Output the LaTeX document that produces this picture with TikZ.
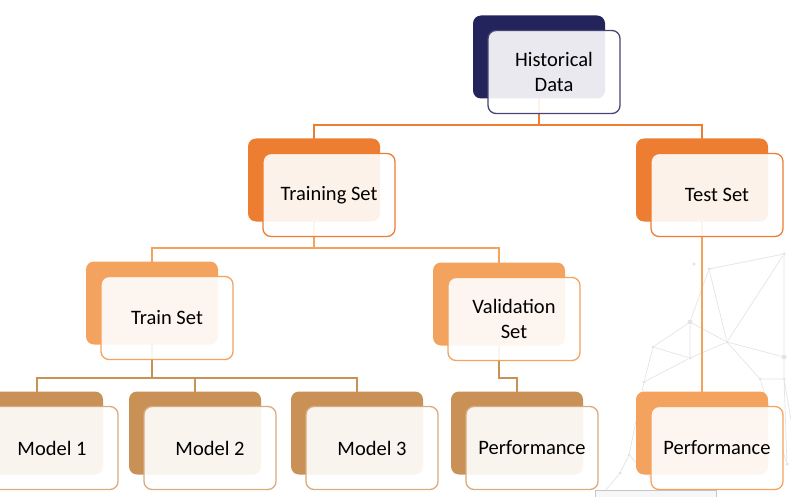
\documentclass[tikz,border=0pt]{standalone}
\usepackage{fontspec}
\setmainfont{Carlito}
\usetikzlibrary{backgrounds}
\usetikzlibrary{calc}

\definecolor{navyback}{RGB}{36,36,92}
\definecolor{orangeback}{RGB}{237,125,49}
\definecolor{lightback}{RGB}{244,163,94}
\definecolor{tanback}{RGB}{201,145,86}
\definecolor{netgray}{RGB}{228,228,228}

\begin{document}
\begin{tikzpicture}[x=1pt,y=-1pt,line join=round,
        font=\fontsize{20.5}{24.5}\selectfont,
        back/.style={rectangle,rounded corners=8pt,minimum width=132pt,minimum height=83pt,inner sep=0pt},
        front/.style={back,fill=white,fill opacity=.9,text opacity=1,line width=1.3pt,align=center},
        back1/.style={back,fill=navyback},
        front1/.style={front,draw=navyback!85},
        back2/.style={back,fill=orangeback},
        front2/.style={front,draw=orangeback},
        back3/.style={back,fill=lightback},
        front3/.style={front,draw=lightback},
        back4/.style={back,fill=tanback},
        front4/.style={front,draw=tanback!75},
        conn/.style={line width=1.1pt},
        net/.style={netgray,line width=.7pt},
        dot/.style={circle,fill=netgray,inner sep=0pt,minimum size=3.5pt}]
        \useasboundingbox (0,0) rectangle (791,497);

        % faint network in the background
        \begin{scope}[on background layer]
        \node[dot] (n1) at (694,264) {};
        \node[dot] (n2) at (709,269) {};
        \node[dot] (n3) at (784,254) {};
        \node[dot,minimum size=5pt] (n4) at (690,322) {};
        \node[dot] (n5) at (727,342) {};
        \node[dot] (n6) at (653,347) {};
        \node[dot] (n7) at (690,358) {};
        \node[dot,minimum size=5pt] (n8) at (784,357) {};
        \node[dot] (n9) at (644,382) {};
        \node[dot] (n10) at (760,379) {};
        \node[dot] (n11) at (784,379) {};
        \node[dot] (n12) at (629,455) {};
        \node[dot] (n13) at (620,473) {};
        \node[dot] (n14) at (787,464) {};
        \coordinate (e1) at (600,497);
        \coordinate (e2) at (668,497);
        \coordinate (e3) at (791,420);
        \draw[net] (n2) -- (n3) (n2) -- (n5) (n2) -- (n4) (n3) -- (n5) (n3) -- (n8)
          (n4) -- (n6) (n4) -- (n5) (n4) -- (n7) (n6) -- (n7) (n7) -- (n5)
          (n5) -- (n8) (n6) -- (n9) (n7) -- (n9) (n5) -- (n10) (n10) -- (n11)
          (n8) -- (n11) (n9) -- (n12) (n12) -- (n13) (n13) -- (e1) (n12) -- (e2)
          (n11) -- (n14) (n10) -- (n14) (n11) -- (e3);
        \draw[gray!45,fill=gray!6] (595,490) rectangle (716,500);
        \end{scope}

        % back shapes
        \node[back1] (hist) at (539,57) {};
        \node[back2] (training) at (314,180) {};
        \node[back2] (test) at (702,180) {};
        \node[back3] (trainset) at (152,303) {};
        \node[back3] (valid) at (499,304) {};
        \node[back4] (m1) at (37,433) {};
        \node[back4] (m2) at (195,433) {};
        \node[back4] (m3) at (357,433) {};
        \node[back4] (perfv) at (517,433) {};
        \node[back3] (perft) at (702,433) {};

        % connectors, behind the shapes
        \coordinate (j1) at (539,125);
        \coordinate (j2) at (314,248);
        \coordinate (j3) at (152,378);
        \coordinate (j4) at (499,378);
        \begin{scope}[on background layer]
        \draw[conn,orangeback] (hist.center) -- (j1) -| (training.center);
        \draw[conn,orangeback] (j1) -| (test.center);
        \draw[conn,lightback] (training.center) -- (j2) -| (trainset.center);
        \draw[conn,lightback] (j2) -| (valid.center);
        \draw[conn,tanback] (trainset.center) -- (j3) -| (m1.center);
        \draw[conn,tanback] (j3) -| (m2.center);
        \draw[conn,tanback] (j3) -| (m3.center);
        \draw[conn,tanback] (valid.center) -- (j4) -| (perfv.center);
        \draw[conn,lightback] (test.center) -- (perft.center);
        \end{scope}

        % front shapes with the texts
        \node[front1] (histf) at ([shift={(15,15)}]hist.center) {Historical\\Data};
        \node[front2] (trainingf) at ([shift={(15,15)}]training.center) {Training Set};
        \node[front2] (testf) at ([shift={(15,15)}]test.center) {Test Set};
        \node[front3] (trainsetf) at ([shift={(15,15)}]trainset.center) {Train Set};
        \node[front3] (validf) at ([shift={(15,15)}]valid.center) {Validation\\Set};
        \node[front4] (m1f) at ([shift={(15,15)}]m1.center) {Model 1};
        \node[front4] (m2f) at ([shift={(15,15)}]m2.center) {Model 2};
        \node[front4] (m3f) at ([shift={(15,15)}]m3.center) {Model 3};
        \node[front4] (perfvf) at ([shift={(15,15)}]perfv.center) {Performance};
        \node[front3] (perftf) at ([shift={(15,15)}]perft.center) {Performance};
      \end{tikzpicture}
\end{document}
